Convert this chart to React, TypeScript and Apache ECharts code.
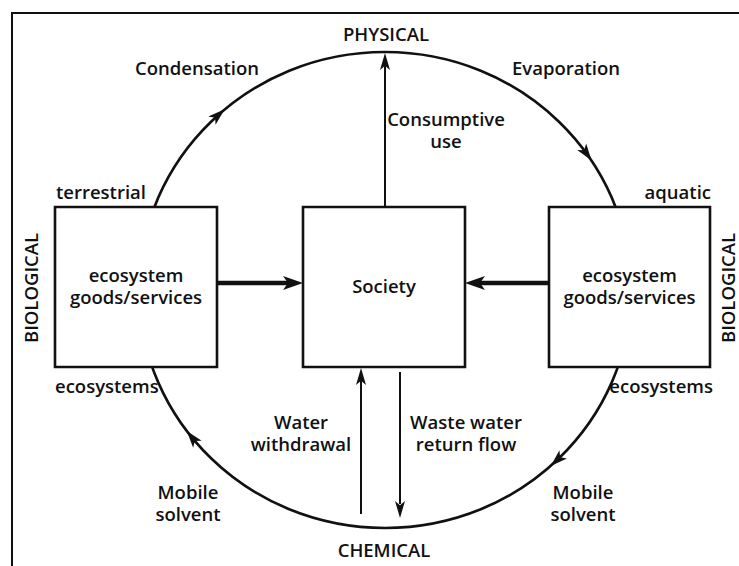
import React, { useEffect, useRef } from "react";
import * as echarts from "echarts";

// ---- diagram content ----
const poles = ["PHYSICAL", "CHEMICAL", "BIOLOGICAL", "BIOLOGICAL"];
const cycleLabels = ["Condensation", "Evaporation", "Mobile\nsolvent", "Mobile\nsolvent"];
const boxLabels = ["ecosystem\ngoods/services", "Society", "ecosystem\ngoods/services"];
const edgeLabels = ["terrestrial", "aquatic", "ecosystems", "ecosystems"];
const flowLabels = ["Consumptive\nuse", "Water\nwithdrawal", "Waste water\nreturn flow"];
// clockwise arrowheads on the cycle, angle in degrees (screen coords)
const cycleArrowAngles = [227.7, 325.4, 46, 142];

const W = 739;
const H = 566;
const FONT = "'Open Sans', 'Noto Sans', sans-serif";
const FS = 18.5;

function txt(text: string, x: number, y: number, align = "center", extra: any = {}) {
  return {
    type: "text",
    x,
    y,
    ...extra,
    style: {
      text,
      align,
      verticalAlign: "middle",
      fontSize: FS,
      fontFamily: FONT,
      fontWeight: 600,
      lineHeight: 22,
      fill: "#111",
    },
  };
}

function head(tipX: number, tipY: number, dx: number, dy: number, len: number, wid: number) {
  const n = Math.hypot(dx, dy);
  const ux = dx / n, uy = dy / n;
  const bx = tipX - ux * len, by = tipY - uy * len;
  const nx = -uy, ny = ux;
  return {
    type: "polygon",
    shape: {
      points: [
        [tipX, tipY],
        [bx + nx * wid / 2, by + ny * wid / 2],
        [bx + ux * len * 0.25, by + uy * len * 0.25],
        [bx - nx * wid / 2, by - ny * wid / 2],
      ],
    },
    style: { fill: "#111" },
    z: 20,
  };
}

function line(x1: number, y1: number, x2: number, y2: number, w: number) {
  return {
    type: "line",
    shape: { x1, y1, x2, y2 },
    style: { stroke: "#111", lineWidth: w },
    z: 15,
  };
}

export default function App() {
  const ref = useRef<HTMLDivElement>(null);
  useEffect(() => {
    const chart = echarts.init(ref.current!, null, { renderer: "svg" });
    const cx = 385, cy = 290, rx = 246, ry = 238;
    const boxes = [
      { x: 55, y: 207, w: 162, h: 160 },
      { x: 303, y: 207, w: 162, h: 160 },
      { x: 549, y: 207, w: 161, h: 160 },
    ];
    const els: any[] = [];
    // frame
    els.push({
      type: "polyline",
      shape: { points: [[12, H], [12, 13], [W, 13]] },
      style: { stroke: "#111", lineWidth: 2, fill: null },
    });
    // cycle ellipse
    els.push({
      type: "ellipse",
      shape: { cx, cy, rx, ry },
      style: { stroke: "#111", lineWidth: 2.6, fill: null },
      z: 5,
    });
    cycleArrowAngles.forEach((a) => {
      const t = (a * Math.PI) / 180;
      const px = cx + rx * Math.cos(t), py = cy + ry * Math.sin(t);
      const dx = -rx * Math.sin(t), dy = ry * Math.cos(t);
      const n = Math.hypot(dx, dy);
      els.push(head(px + (dx / n) * 7, py + (dy / n) * 7, dx, dy, 17, 11));
    });
    // boxes
    boxes.forEach((b, i) => {
      els.push({
        type: "rect",
        shape: { x: b.x, y: b.y, width: b.w, height: b.h },
        style: { fill: "#fff", stroke: "#111", lineWidth: 2.6 },
        z: 10,
      });
      els.push({ ...txt(boxLabels[i], b.x + b.w / 2, b.y + 78), z: 12 });
    });
    // thick arrows between boxes
    els.push(line(217, 283, 288, 283, 4.5));
    els.push(head(303, 283, 1, 0, 20, 14));
    els.push(line(549, 283, 480, 283, 4.5));
    els.push(head(465, 283, -1, 0, 20, 14));
    // thin vertical flows
    els.push(line(385, 207, 385, 66, 2));
    els.push(head(385, 53, 0, -1, 17, 10));
    els.push(line(361, 514, 361, 380, 2));
    els.push(head(361, 368, 0, -1, 17, 10));
    els.push(line(400, 372, 400, 504, 2));
    els.push(head(400, 518, 0, 1, 17, 10));
    // pole labels
    els.push(txt(poles[0], 386, 33));
    els.push(txt(poles[1], 384, 549));
    els.push(txt(poles[2], 30, 288, "center", { rotation: Math.PI / 2 }));
    els.push(txt(poles[3], 727, 288, "center", { rotation: Math.PI / 2 }));
    // cycle labels
    els.push(txt(cycleLabels[0], 197, 67));
    els.push(txt(cycleLabels[1], 566, 67));
    els.push(txt(cycleLabels[2], 188, 502));
    els.push(txt(cycleLabels[3], 583, 502));
    // edge labels
    els.push(txt(edgeLabels[0], 56, 191, "left"));
    els.push(txt(edgeLabels[1], 711, 191, "right"));
    els.push(txt(edgeLabels[2], 55, 385, "left"));
    els.push(txt(edgeLabels[3], 713, 385, "right"));
    // flow labels
    els.push(txt(flowLabels[0], 446, 129));
    els.push(txt(flowLabels[1], 301, 432));
    els.push(txt(flowLabels[2], 466, 432));

    chart.setOption({
      animation: false,
      backgroundColor: "#fff",
      graphic: { elements: els },
    });
    return () => chart.dispose();
  }, []);
  return (
    <div
      ref={ref}
      style={{ position: "fixed", left: 0, top: 0, width: W, height: H, background: "#fff" }}
    />
  );
}
